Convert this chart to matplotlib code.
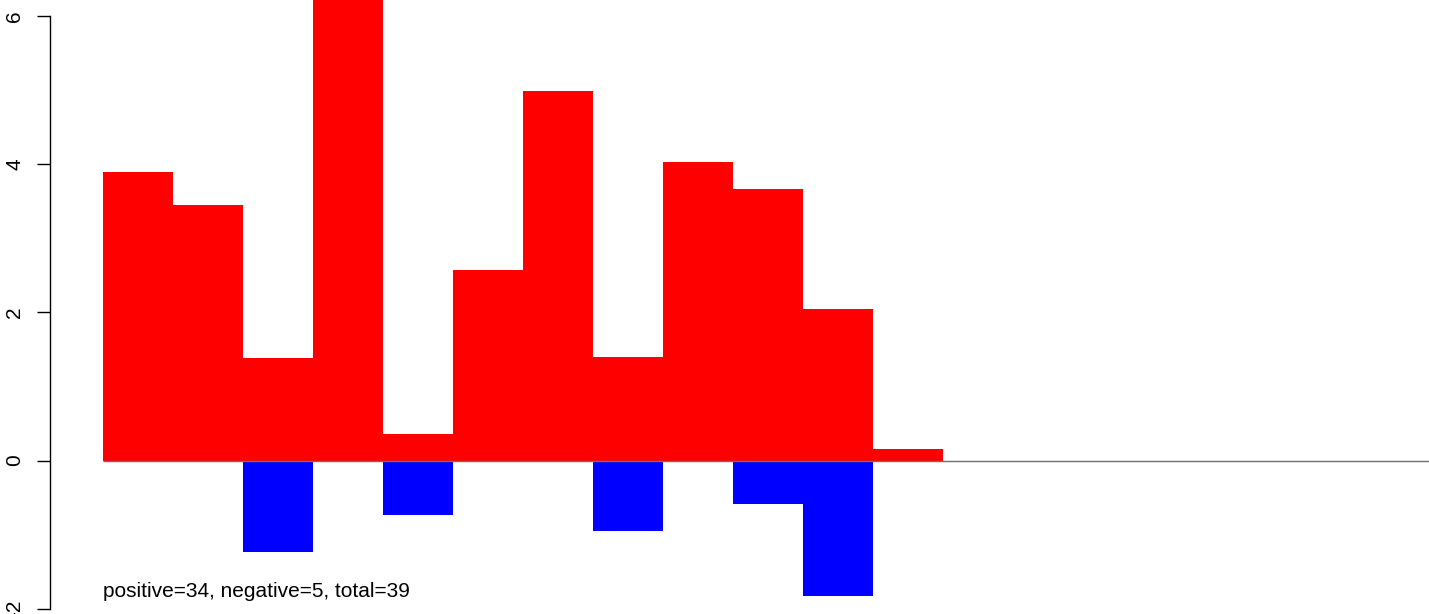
"""Positive / negative bar chart, R barplot style."""

import matplotlib
matplotlib.use("Agg")
import matplotlib.pyplot as plt
import numpy as np

# bar values per slot (space=0 barplot), positive and negative parts
positive = [3.89, 3.45, 1.39, 6.40, 0.36, 2.57, 4.99, 1.40, 4.03, 3.66, 2.05, 0.15]
negative = [0.0, 0.0, -1.24, 0.0, -0.74, 0.0, 0.0, -0.95, 0.0, -0.59, -1.83, 0.0]
n_slots = 19
yticks = [-2, 0, 2, 4, 6]
note = "positive=34, negative=5, total=39"

W, H, DPI = 1429, 614, 100

plt.rcParams['font.family'] = ['Liberation Sans', 'DejaVu Sans']

fig = plt.figure(figsize=(W / DPI, H / DPI), dpi=DPI)
ax = fig.add_axes([50 / W, 0, 1 - 50 / W, 1])

x = np.arange(len(positive))
ax.bar(x, positive, width=1.0, align='edge', color='#ff0000', linewidth=0)
ax.bar(x, negative, width=1.0, align='edge', color='#0000ff', linewidth=0)
ax.hlines(0, 0, n_slots, color='#707070', linewidth=1.0, zorder=3)

# pixel mapping: bar width 70 px, first bar at 103 px, 0 at 460.5 px, 74.1 px/unit
ax.set_xlim((50 - 103) / 70, (W - 103) / 70)
ax.set_ylim((460.5 - H) / 74.1, 460.5 / 74.1)

for s in ['top', 'right', 'bottom']:
    ax.spines[s].set_visible(False)
ax.spines['left'].set_bounds(yticks[0], yticks[-1])
ax.spines['left'].set_linewidth(1.0)
ax.set_xticks([])
ax.set_yticks(yticks)
ax.set_yticklabels([str(t) for t in yticks], rotation=90, va='center', fontsize=15)
ax.tick_params(axis='y', direction='out', length=9.4, width=1.0, pad=9)

fig.text(103 / W, 1 - 597 / H, note, fontsize=15, ha='left', va='baseline')

fig.savefig("out.png", dpi=DPI)
